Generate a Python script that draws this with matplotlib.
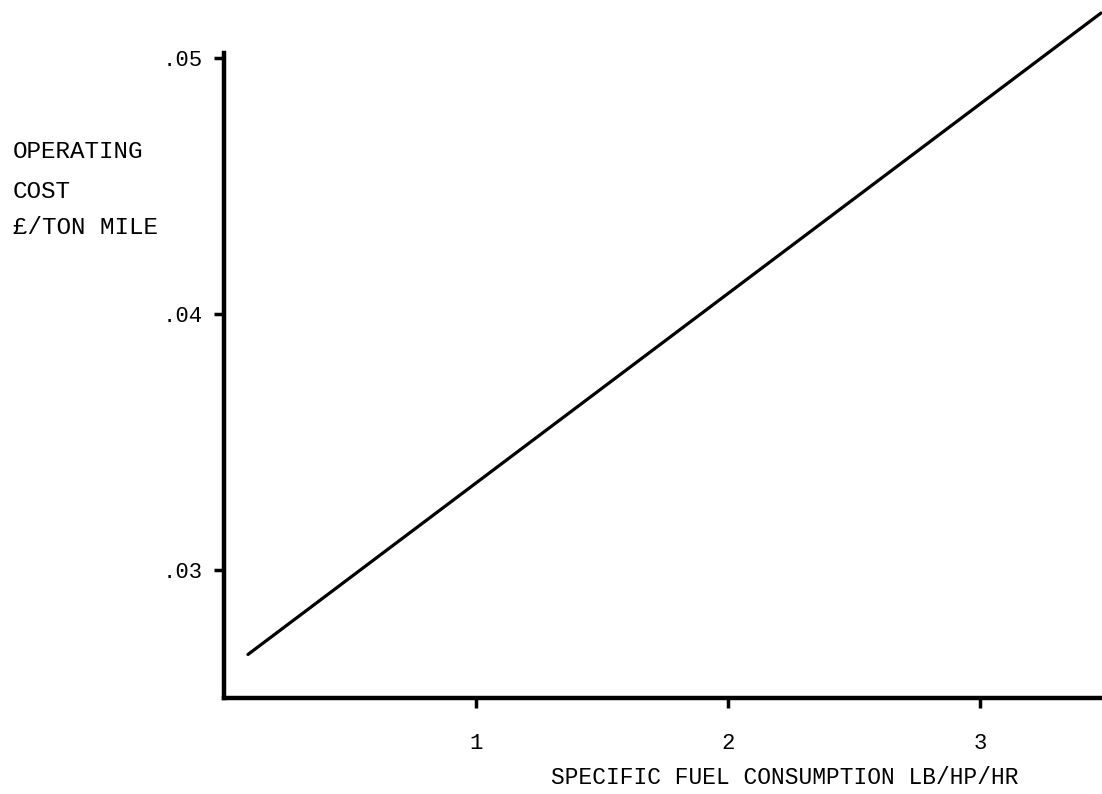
import matplotlib.pyplot as plt

# data
sfc = [0.095, 3.48]          # specific fuel consumption lb/hp/hr
cost = [0.0267, 0.05176]     # operating cost per ton mile
x_ticks = [1, 2, 3]
x_labels = ['1', '2', '3']
y_ticks = [0.03, 0.04, 0.05]
y_labels = ['.03', '.04', '.05']

plt.rcParams['font.family'] = ['Liberation Mono', 'DejaVu Sans Mono']

fig = plt.figure(figsize=(11.02, 7.94), dpi=100)
ax = fig.add_axes([224 / 1102, 96 / 794, 1 - 224 / 1102, 698 / 794])

ax.plot(sfc, cost, color='black', linewidth=2.3, solid_capstyle='round')

ax.set_xlim(0, 3.484)
ax.set_ylim(0.025, 0.05227)

ax.spines['top'].set_visible(False)
ax.spines['right'].set_visible(False)
ax.spines['left'].set_linewidth(3.2)
ax.spines['bottom'].set_linewidth(3.2)
ax.spines['left'].set_bounds(0.025, 0.0502)

ax.set_xticks(x_ticks, x_labels)
ax.set_yticks(y_ticks, y_labels)
ax.tick_params(axis='x', direction='out', length=7, width=2.5, pad=18, labelsize=16)
ax.tick_params(axis='y', direction='out', length=7, width=2.5, pad=8, labelsize=16)

fig.text(785 / 1102, 1 - 778 / 794, 'SPECIFIC FUEL CONSUMPTION LB/HP/HR',
         ha='center', va='center', fontsize=16.5)

for txt, ypix in [('OPERATING', 152), ('COST', 191), ('£/TON MILE', 228)]:
    fig.text(13 / 1102, 1 - ypix / 794, txt, ha='left', va='center', fontsize=17.5)

fig.savefig('out.png', dpi=100)
